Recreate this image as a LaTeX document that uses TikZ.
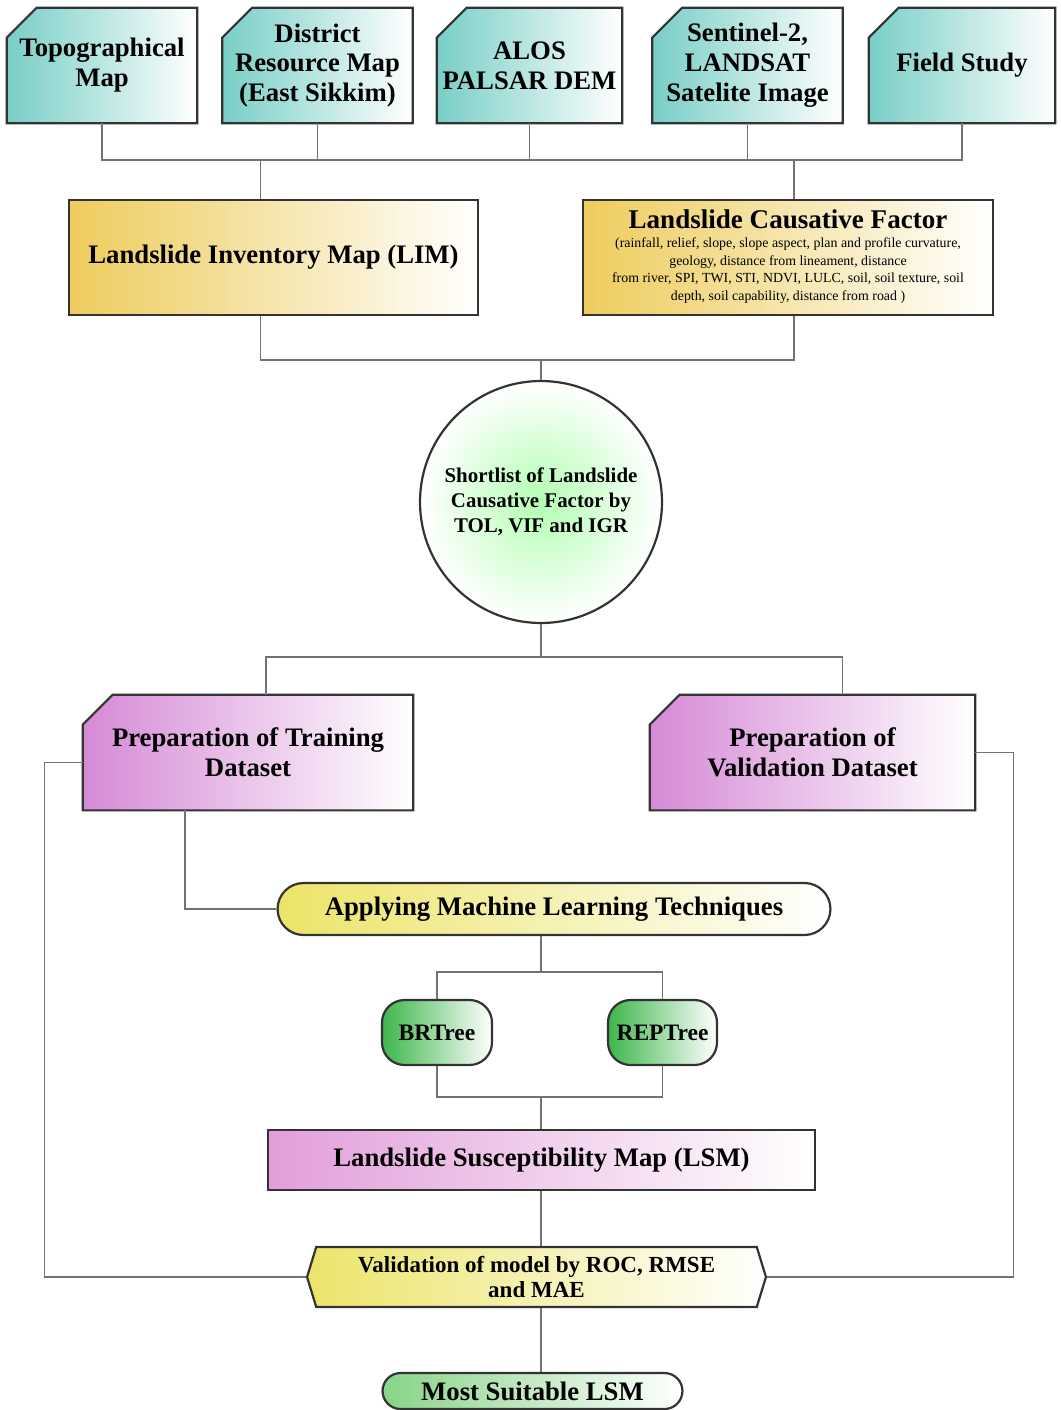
\documentclass[tikz,border=0pt]{standalone}
\usepackage{fontspec}
\setmainfont{Liberation Serif}
\usetikzlibrary{shapes.misc,shapes.symbols,backgrounds}

\definecolor{srcteal}{RGB}{120,206,198}
\definecolor{limgold}{RGB}{238,204,92}
\definecolor{prepmag}{RGB}{214,138,214}
\definecolor{mlyellow}{RGB}{236,228,105}
\definecolor{treegreen}{RGB}{62,182,76}
\definecolor{lsmpink}{RGB}{226,158,218}
\definecolor{finalgreen}{RGB}{135,212,135}

\tikzset{
  box/.style={draw=black!80, line width=1.25pt, align=center, inner sep=2pt,
    font=\bfseries\fontsize{15.2}{17}\selectfont},
  % chamfered boxes: the node only holds the text, the outline is drawn behind it
  srcbox/.style={rectangle, align=center, inner sep=2pt, minimum width=3.8cm,
    minimum height=2.3cm, font=\bfseries\fontsize{15.2}{17}\selectfont},
  prepbox/.style={srcbox, minimum width=6.6cm},
  chamfer/.style={draw=black!80, line width=1.25pt},
  mapbox/.style={box, rectangle, minimum width=8.2cm, minimum height=2.3cm,
    left color=limgold, right color=white},
  pill/.style={box, rounded rectangle, minimum height=1.04cm},
  treebox/.style={box, rectangle, rounded corners=0.45cm, minimum width=2.2cm,
    minimum height=1.3cm, font=\bfseries\fontsize{13.4}{15}\selectfont,
    left color=treegreen, right color=white},
  link/.style={draw=black!55, line width=0.8pt},
}

\begin{document}
\begin{tikzpicture}[x=0.02cm, y=-0.02cm]
\useasboundingbox (0,0) rectangle (1061,1410);

% data sources
\node[srcbox] (topo) at (102,65.5) {Topographical\\Map};
\node[srcbox] (district) at (317.5,65.5) {District\\Resource Map\\(East Sikkim)};
\node[srcbox, minimum width=3.7cm] (alos) at (529.5,65.5) {ALOS\\PALSAR DEM};
\node[srcbox] (sentinel) at (747.5,65.5) {Sentinel-2,\\LANDSAT\\Satelite Image};
\node[srcbox, minimum width=3.72cm] (field) at (962,65.5) {Field Study};

% inventory and factors
\node[mapbox, minimum width=8.18cm] (lim) at (273.5,257.5) {Landslide Inventory Map (LIM)};
\node[mapbox] (lcf) at (788,257.5) {{\fontsize{15.4}{19}\selectfont Landslide Causative Factor}\\[3pt]
  {\mdseries\fontsize{7.9}{10}\selectfont\begin{tabular}{@{}c@{}}
  (rainfall, relief, slope, slope aspect, plan and profile curvature,\\
  geology, distance from lineament, distance\\
  from river, SPI, TWI, STI, NDVI, LULC, soil, soil texture, soil\\
  depth, soil capability, distance from road )
  \end{tabular}}};

\node[box, circle, minimum size=4.84cm, inner color=green!30, outer color=white,
  font=\bfseries\fontsize{11.9}{14.2}\selectfont] (shortlist) at (541,502)
  {Shortlist of Landslide\\Causative Factor by\\TOL, VIF and IGR};

% datasets
\node[prepbox] (train) at (248,752.5) {Preparation of Training\\Dataset};
\node[prepbox, minimum width=6.5cm] (valid) at (812.5,752.5) {Preparation of\\Validation Dataset};

% models
\node[pill, minimum width=11.2cm, left color=mlyellow, right color=white] (ml) at (554,909)
  {Applying Machine Learning Techniques};
\node[treebox] (brt) at (437,1032.5) {BRTree};
\node[treebox, minimum width=2.18cm] (rep) at (662.5,1032.5) {REPTree};

\node[box, rectangle, minimum width=10.94cm, minimum height=1.2cm,
  left color=lsmpink, right color=white] (lsm) at (541.5,1160) {Landslide Susceptibility Map (LSM)};
\node[box, signal, signal to=west and east, signal pointer angle=146,
  minimum width=9.18cm, minimum height=1.2cm, left color=mlyellow, right color=white,
  font=\bfseries\fontsize{13.1}{14.7}\selectfont] (eval) at (536.5,1277)
  {Validation of model by ROC, RMSE\\and MAE};
\node[pill, minimum width=6.14cm, minimum height=0.72cm, left color=finalgreen, right color=white]
  (best) at (532.5,1391) {Most Suitable LSM};

% chamfered outlines behind the text
\begin{scope}[on background layer]
\foreach \n/\c in {topo/srcteal,district/srcteal,alos/srcteal,sentinel/srcteal,field/srcteal,
    train/prepmag,valid/prepmag}
  \draw[chamfer, left color=\c, right color=white] (\n.south west)
    -- ([yshift=-0.6cm]\n.north west) -- ([xshift=0.6cm]\n.north west)
    -- (\n.north east) -- (\n.south east) -- cycle;
\end{scope}

% connectors
\draw[link] (topo.south) |- (field.south |- 0,160) -- (field.south);
\foreach \n in {district,alos,sentinel}
  \draw[link] (\n.south) -- (\n.south |- 0,160);
\draw[link] ([xshift=-0.26cm]lim.north) -- ++(0,-40);
\draw[link] ([xshift=0.12cm]lcf.north) -- ++(0,-40);

\draw[link] ([xshift=-0.26cm]lim.south) |- ([xshift=0.12cm]lcf.south |- 0,360) -- ([xshift=0.12cm]lcf.south);
\draw[link] (shortlist.north) -- (shortlist.north |- 0,360);

\draw[link] ([xshift=0.36cm]train.north) |- ([xshift=0.6cm]valid.north |- 0,657) -- ([xshift=0.6cm]valid.north);
\draw[link] (shortlist.south) -- (shortlist.south |- 0,657);

\draw[link] ([xshift=-1.26cm]train.south) |- (ml.west);
\draw[link] ([yshift=-0.2cm]train.west) -- ++(-38,0) |- (eval.west);
\draw[link] (valid.east) -- ++(38,0) |- (eval.east);

\draw[link] (brt.north) |- (rep.north |- 0,972) -- (rep.north);
\draw[link] (ml.south -| shortlist.south) -- (shortlist.south |- 0,972);
\draw[link] (brt.south) |- (rep.south |- 0,1097) -- (rep.south);
\draw[link] (lsm.north -| shortlist.south) -- (shortlist.south |- 0,1097);

\draw[link] (lsm.south -| shortlist.south) -- (eval.north -| shortlist.south);
\draw[link] (eval.south -| shortlist.south) -- (best.north -| shortlist.south);
\end{tikzpicture}
\end{document}
